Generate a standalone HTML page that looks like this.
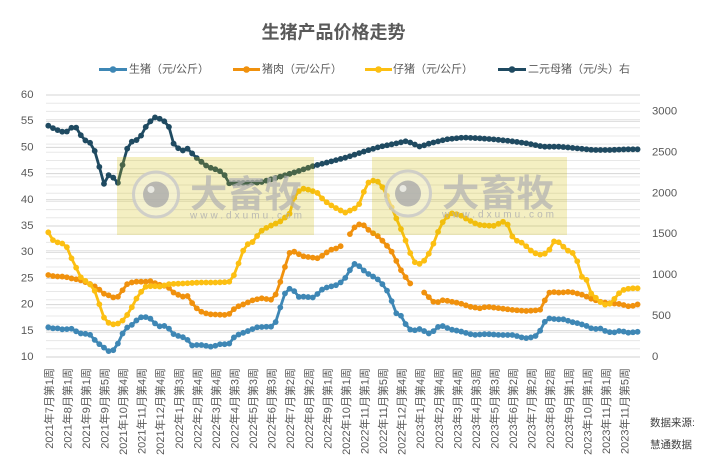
<!DOCTYPE html>
<html><head><meta charset="utf-8">
<style>
html,body{margin:0;padding:0;background:#fff;}
svg{display:block;font-family:"Liberation Sans","Noto Sans CJK SC",sans-serif;}
</style></head><body>
<svg id="c" width="711" height="471" viewBox="0 0 711 471" xmlns="http://www.w3.org/2000/svg">
<rect width="711" height="471" fill="#fff"/>
<path fill="none" stroke="#E8E8E8" stroke-width="1" d="M46 348.81H640M46 340.63H640M46 332.44H640M46 324.25H640M46 316.06H640M46 307.88H640M46 299.69H640M46 291.5H640M46 283.31H640M46 275.13H640M46 266.94H640M46 258.75H640M46 250.56H640M46 242.38H640M46 234.19H640M46 226H640M46 217.81H640M46 209.63H640M46 201.44H640M46 193.25H640M46 185.06H640M46 176.88H640M46 168.69H640M46 160.5H640M46 152.31H640M46 144.13H640M46 135.94H640M46 127.75H640M46 119.56H640M46 111.38H640M46 103.19H640"/>
<path fill="none" stroke="#D6D6D6" stroke-width="1" d="M46 330.8H640M46 304.6H640M46 278.4H640M46 252.2H640M46 226H640M46 199.8H640M46 173.6H640M46 147.4H640M46 121.2H640M46 95H640"/>
<path fill="none" stroke="#D0D0D0" stroke-width="1" d="M46 357H640"/>

<text x="333.5" y="32.5" text-anchor="middle" dominant-baseline="central" font-size="18" font-weight="bold" fill="#595959">生猪产品价格走势</text>

<g font-size="11" fill="#595959" dominant-baseline="central">
  <line x1="99" y1="69.5" x2="127" y2="69.5" stroke="#3E87B5" stroke-width="3"/><circle cx="113" cy="69.5" r="3.3" fill="#3E87B5"/>
  <text x="129" y="69.5">生猪（元/公斤）</text>
  <line x1="233" y1="69.5" x2="260" y2="69.5" stroke="#F0910D" stroke-width="3"/><circle cx="246.5" cy="69.5" r="3.3" fill="#F0910D"/>
  <text x="262" y="69.5">猪肉（元/公斤）</text>
  <line x1="365" y1="69.5" x2="392" y2="69.5" stroke="#FCBF12" stroke-width="3"/><circle cx="378.5" cy="69.5" r="3.3" fill="#FCBF12"/>
  <text x="393" y="69.5">仔猪（元/公斤）</text>
  <line x1="498" y1="69.5" x2="526" y2="69.5" stroke="#1F4A61" stroke-width="3"/><circle cx="512" cy="69.5" r="3.3" fill="#1F4A61"/>
  <text x="528" y="69.5">二元母猪（元/头）右</text>
</g>

<g font-size="11.3" fill="#595959" text-anchor="end" dominant-baseline="central">
  <text x="33.5" y="95">60</text>
  <text x="33.5" y="121.2">55</text>
  <text x="33.5" y="147.4">50</text>
  <text x="33.5" y="173.6">45</text>
  <text x="33.5" y="199.8">40</text>
  <text x="33.5" y="226">35</text>
  <text x="33.5" y="252.2">30</text>
  <text x="33.5" y="278.4">25</text>
  <text x="33.5" y="304.6">20</text>
  <text x="33.5" y="330.8">15</text>
  <text x="33.5" y="357">10</text>
</g>
<g font-size="11.3" fill="#595959" dominant-baseline="central">
  <text x="652" y="111.4">3000</text>
  <text x="652" y="152.3">2500</text>
  <text x="652" y="193.25">2000</text>
  <text x="652" y="234.2">1500</text>
  <text x="652" y="275.1">1000</text>
  <text x="652" y="316.1">500</text>
  <text x="652" y="357">0</text>
</g>

<g font-size="11" fill="#595959" text-anchor="end" dominant-baseline="central">
  <text transform="translate(49.8,368) rotate(-90)">2021年7月第1周</text>
  <text transform="translate(68.4,368) rotate(-90)">2021年8月第1周</text>
  <text transform="translate(86.9,368) rotate(-90)">2021年9月第1周</text>
  <text transform="translate(105.5,368) rotate(-90)">2021年9月第5周</text>
  <text transform="translate(124.1,368) rotate(-90)">2021年10月第4周</text>
  <text transform="translate(142.7,368) rotate(-90)">2021年11月第4周</text>
  <text transform="translate(161.2,368) rotate(-90)">2021年12月第4周</text>
  <text transform="translate(179.8,368) rotate(-90)">2022年1月第3周</text>
  <text transform="translate(198.4,368) rotate(-90)">2022年2月第4周</text>
  <text transform="translate(216.9,368) rotate(-90)">2022年3月第4周</text>
  <text transform="translate(235.5,368) rotate(-90)">2022年4月第3周</text>
  <text transform="translate(254.1,368) rotate(-90)">2022年5月第3周</text>
  <text transform="translate(272.6,368) rotate(-90)">2022年6月第3周</text>
  <text transform="translate(291.2,368) rotate(-90)">2022年7月第2周</text>
  <text transform="translate(309.8,368) rotate(-90)">2022年8月第2周</text>
  <text transform="translate(328.4,368) rotate(-90)">2022年9月第1周</text>
  <text transform="translate(346.9,368) rotate(-90)">2022年10月第1周</text>
  <text transform="translate(365.5,368) rotate(-90)">2022年11月第1周</text>
  <text transform="translate(384.1,368) rotate(-90)">2022年11月第5周</text>
  <text transform="translate(402.6,368) rotate(-90)">2022年12月第4周</text>
  <text transform="translate(421.2,368) rotate(-90)">2023年1月第4周</text>
  <text transform="translate(439.8,368) rotate(-90)">2023年2月第4周</text>
  <text transform="translate(458.3,368) rotate(-90)">2023年3月第4周</text>
  <text transform="translate(476.9,368) rotate(-90)">2023年4月第3周</text>
  <text transform="translate(495.5,368) rotate(-90)">2023年5月第3周</text>
  <text transform="translate(514.1,368) rotate(-90)">2023年6月第2周</text>
  <text transform="translate(532.6,368) rotate(-90)">2023年7月第2周</text>
  <text transform="translate(551.2,368) rotate(-90)">2023年8月第2周</text>
  <text transform="translate(569.8,368) rotate(-90)">2023年9月第1周</text>
  <text transform="translate(588.3,368) rotate(-90)">2023年10月第1周</text>
  <text transform="translate(606.9,368) rotate(-90)">2023年11月第1周</text>
  <text transform="translate(625.5,368) rotate(-90)">2023年11月第5周</text>
</g>

<g font-size="10.5" fill="#404040" dominant-baseline="central">
  <text x="650" y="423">数据来源:</text>
  <text x="650" y="445">慧通数据</text>
</g>

<g id="series"></g>

<g>
  <rect x="117" y="157" width="197" height="78" fill="rgb(210,190,0)" fill-opacity="0.24"/>
  <rect x="372" y="157" width="195" height="78" fill="rgb(210,190,0)" fill-opacity="0.24"/>
  <g opacity="0.85">
    <circle cx="156" cy="194.5" r="22.5" fill="#f4f1dc" fill-opacity="0.6" stroke="#CACACA" stroke-width="3"/>
    <circle cx="156" cy="194.5" r="13" fill="#AFAFAF"/>
    <circle cx="151" cy="189.5" r="3.5" fill="#E8E8E8"/>
    <text x="190" y="194.5" font-size="37" font-weight="bold" fill="#B2B2B2" fill-opacity="0.85" dominant-baseline="central" textLength="112" lengthAdjust="spacingAndGlyphs">大畜牧</text>
    <text x="190" y="216" font-size="10" fill="#B0B0B0" dominant-baseline="central" textLength="112" lengthAdjust="spacing">www.dxumu.com</text>

    <circle cx="408" cy="193.5" r="22.5" fill="#f4f1dc" fill-opacity="0.6" stroke="#CACACA" stroke-width="3"/>
    <circle cx="408" cy="193.5" r="13" fill="#AFAFAF"/>
    <circle cx="403" cy="188.5" r="3.5" fill="#E8E8E8"/>
    <text x="442" y="193.5" font-size="37" font-weight="bold" fill="#B2B2B2" fill-opacity="0.85" dominant-baseline="central" textLength="112" lengthAdjust="spacingAndGlyphs">大畜牧</text>
    <text x="442" y="215" font-size="10" fill="#B0B0B0" dominant-baseline="central" textLength="112" lengthAdjust="spacing">www.dxumu.com</text>
  </g>
</g>
</svg>
<script>
(function(){
const NS='http://www.w3.org/2000/svg';
const g=document.getElementById('series');
function interp(p,x){
  if(x<=p[0][0]) return p[0][1];
  for(let j=1;j<p.length;j++){
    if(x<=p[j][0]){const a=p[j-1],b=p[j];return a[1]+(b[1]-a[1])*(x-a[0])/(b[0]-a[0]);}
  }
  return p[p.length-1][1];
}
function draw(p,color,gaps){
  const segs=[];let cur=[];
  for(let i=0;i<128;i++){
    if(gaps.indexOf(i)>=0){if(cur.length)segs.push(cur);cur=[];continue;}
    const x=48.3+4.64*i;cur.push([x,interp(p,x)]);
  }
  if(cur.length)segs.push(cur);
  segs.forEach(s=>{
    const pl=document.createElementNS(NS,'polyline');
    pl.setAttribute('points',s.map(q=>q[0].toFixed(2)+','+q[1].toFixed(2)).join(' '));
    pl.setAttribute('fill','none');pl.setAttribute('stroke',color);
    pl.setAttribute('stroke-width','2.8');pl.setAttribute('stroke-linejoin','round');
    g.appendChild(pl);
    s.forEach(q=>{const c=document.createElementNS(NS,'circle');
      c.setAttribute('cx',q[0].toFixed(2));c.setAttribute('cy',q[1].toFixed(2));
      c.setAttribute('r','2.9');c.setAttribute('fill',color);g.appendChild(c);});
  });
}
const blue=[[48.3,327.3],[52.7,328.3],[57.3,328.3],[61.7,329.3],[66,329.3],[70.7,328.3],[75,330.7],[80,333.3],[84.3,334],[88.7,333.3],[93.3,338.3],[97.7,343.3],[102.3,345.7],[106.7,350.7],[111.3,351.7],[115.7,348.3],[120.3,338.3],[125,328.3],[129.3,326.7],[134,323.3],[138.3,318.3],[142.7,316.7],[147.3,317.3],[151.7,319.3],[156.3,325],[160.7,326.7],[165.3,325.7],[169.7,329.3],[174.3,335],[178.7,336],[183.3,337.3],[187.7,340],[192.3,345.7],[196.7,345],[201.3,345],[205.7,345.7],[210.3,346.7],[214.7,346],[219.3,344.3],[223.7,344],[228.3,345],[232.7,338.3],[237.3,335],[241.7,333.3],[246.3,331.7],[256.7,327.3],[266.7,326.7],[273.3,326.7],[276.7,320],[280,308.3],[285,293.3],[288.3,288.3],[293.3,290],[300,298.3],[305,296],[311.7,298.3],[318.3,293.3],[323.3,288.3],[330,286.7],[336.7,285],[341.7,281.7],[345,278.3],[350,270],[355,263.3],[360,266.7],[365,271.7],[370,275],[376.7,278.3],[381.7,283.3],[386.7,290],[390,296.7],[395,310],[398.3,318.3],[401.7,315],[406.7,326.7],[411.7,330.7],[416.7,330],[421.7,328.3],[426.7,334],[431.7,332.7],[438.3,326.7],[443.3,326],[450,329.3],[460,331.2],[473.3,335],[486.7,334],[500,335],[513.3,335],[525,338.3],[531.7,337.3],[538.3,335],[543.3,323.3],[548.3,318.3],[556.7,319.3],[565,319.3],[570,321.7],[578.3,323.3],[586.7,326],[593.3,329.3],[600,328.3],[606.7,331.7],[613.3,332.7],[620,330.7],[628.3,332.7],[639,331.7]];
const orange=[[48.3,275],[52.7,276],[57.3,276.5],[61.7,276.5],[66,277],[70.7,278.3],[75,279],[80,280],[84.3,281.7],[88.7,283.3],[93.3,285.7],[97.7,287.7],[102.3,293.3],[106.7,294.3],[111.3,296.7],[115.7,298.3],[120.3,295],[125,285],[129.3,283.3],[134,281.7],[147.3,281.7],[151.7,281],[156.3,284],[160.7,285],[165.3,286],[169.7,288.3],[174.3,293.3],[178.7,295],[183.3,296.7],[187.7,296],[192.3,303.3],[196.7,308.3],[201.3,311.7],[205.7,313.3],[210,314.3],[228.3,315],[232.7,310],[237.3,306.7],[243,304.5],[253.3,300],[261.7,298.3],[273.3,300],[278.3,288.3],[285,266.7],[290,251.7],[295,251.7],[301.7,256],[310,257.3],[318.3,258.3],[323.3,255],[330,250],[336.7,248.3],[341,246],[349.3,235],[355,226.7],[360,224],[365,225.7],[370,231.7],[376.7,235],[385,243.3],[391.7,251.7],[396.7,261.7],[401.7,271.7],[410,283.3],[423.3,291.7],[430,298.3],[435,303.3],[443.3,300],[451.7,301.7],[460,303.3],[470,306.7],[480,308.3],[486.7,306.7],[500,308.3],[513.3,310],[526.7,311],[540,310],[545,300],[550,291.7],[560,292.7],[570,291.7],[583.3,295],[590,298.3],[600,301.7],[610,303.3],[620,304],[630,306.7],[639,304]];
const yellow=[[48.3,232.3],[52.7,240],[57.3,242.3],[61.7,243.3],[66,245],[70.7,256.7],[75,265],[80,276.7],[84.3,280],[88.7,283.3],[93.3,287.3],[97.7,298.3],[102.3,315],[106.7,321.7],[111.3,324.3],[115.7,324.3],[120.3,322.7],[125,318.3],[129.3,311.7],[134,303.3],[138.3,295],[142.7,290],[147.3,285],[151.7,286.7],[156.3,286],[160.7,286.7],[165.3,285],[169.7,284],[183,283.5],[200,282.5],[215,282.5],[229,282],[232,279],[235,273],[238,265],[242,253],[246,245],[253.3,241.7],[260,231.7],[268.3,226.7],[280,221.7],[290,213.3],[295,195],[301.7,188.3],[310,190],[318.3,193.3],[323.3,200],[333.3,206.7],[345,212.7],[355,208.3],[360,203.3],[365,188.3],[370,180],[378.3,181.7],[383.3,188.3],[388.3,198.3],[393.3,211.7],[400,226.7],[406.7,243.3],[413.3,261.7],[420,264],[425,260],[430,251.7],[435,240],[440,226.7],[445,218.3],[451.7,213.3],[460,215],[466.7,219],[475,223.3],[480,225],[493.3,226],[503.3,221.7],[508.3,225],[513.3,239.3],[523.3,243.3],[530,250],[538.3,255],[546.7,253.3],[551.7,246.7],[555,239.3],[560,243.3],[566.7,250],[573.3,253.3],[578.3,263.3],[581.7,276.7],[586.7,280],[591.7,295],[596.7,298.3],[603.3,305],[611.7,303.3],[616.7,295],[623.3,290],[630,288.3],[639,288.3]];
const dark=[[48.3,125.7],[53.3,128.3],[57.3,130],[61.7,131.7],[66,131.7],[70.7,130.7],[72.7,123.3],[76.7,128.3],[81.7,136.7],[86.7,141.7],[91.7,143.3],[95,151.7],[99.3,166.7],[104.3,185],[108.3,175],[113.3,177.7],[118.3,183.3],[123.3,161.7],[127.3,148.3],[131.7,141.7],[136.7,140],[141.7,135],[146.7,125],[151.7,120],[156,116.7],[160.7,119.3],[165,121.7],[170,128.3],[173.3,143.3],[178.3,148.3],[183.3,150.7],[188.3,148.3],[193.3,155],[198.3,159.3],[203.3,163.3],[208.3,167.3],[213.3,168.3],[218.3,170.7],[223.3,172.3],[228.3,183.3],[240,183],[260,182.5],[280,176.7],[296.7,171.7],[313.3,166],[330,161.7],[346.7,157.3],[363.3,151.7],[380,146.7],[396.7,143.3],[406.7,141],[420,146.7],[430,143.3],[446.7,139.3],[463.3,137.5],[480,138.3],[493.3,139.3],[510,141],[526.7,143.3],[543.3,146.7],[560,146.7],[576.7,148.3],[593.3,150],[610,150],[626.7,149.3],[639,149.3]];
draw(blue,'#3E87B5',[]);
draw(orange,'#F0910D',[64,79,80]);
draw(yellow,'#FCBF12',[]);
draw(dark,'#1F4A61',[]);
})();
</script>
</body></html>
